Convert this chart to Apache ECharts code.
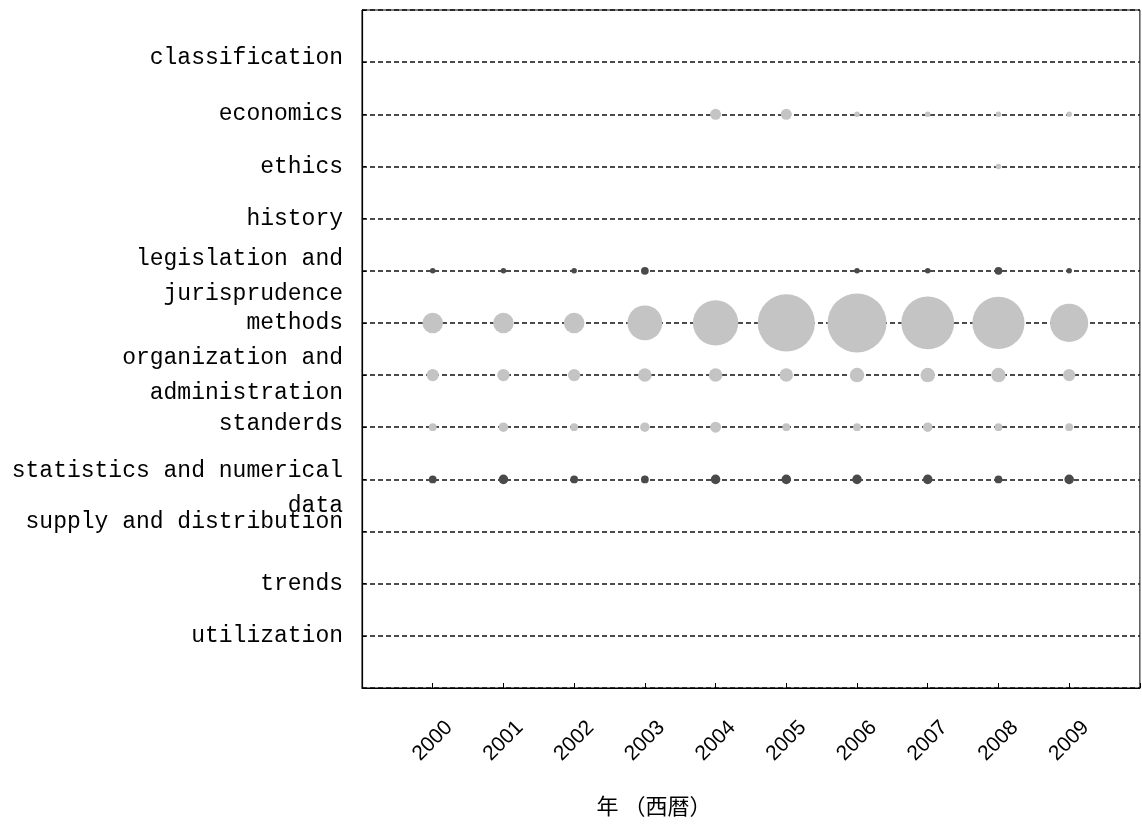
<!DOCTYPE html>
<html>
<head>
<meta charset="utf-8">
<script src="https://cdn.jsdelivr.net/npm/echarts@6/dist/echarts.min.js"></script>
<style>
html,body{margin:0;padding:0;background:#fff;}
#chart{width:1142px;height:826px;}
</style>
</head>
<body>
<div id="chart"></div>
<script>
// ---- data ----
var years = [2000, 2001, 2002, 2003, 2004, 2005, 2006, 2007, 2008, 2009];
var categories = [
  'classification',
  'economics',
  'ethics',
  'history',
  'legislation and\njurisprudence',
  'methods',
  'organization and\nadministration',
  'standerds',
  'statistics and numerical\ndata',
  'supply and distribution',
  'trends',
  'utilization'
];
var valClassification = [0, 0, 0, 0, 0, 0, 0, 0, 0, 0];
var valEconomics      = [0, 0, 0, 0, 4, 4, 1, 1, 1, 1];
var valEthics         = [0, 0, 0, 0, 0, 0, 0, 0, 1, 0];
var valHistory        = [0, 0, 0, 0, 0, 0, 0, 0, 0, 0];
var valLegislation    = [1, 1, 1, 2, 0, 0, 1, 1, 2, 1];
var valMethods        = [14, 14, 14, 40, 68, 108, 115, 92, 90, 48];
var valOrganization   = [5, 5, 5, 6, 6, 6, 7, 7, 7, 5];
var valStanderds      = [2, 3, 2, 3, 4, 2, 2, 3, 2, 2];
var valStatistics     = [2, 3, 2, 2, 3, 3, 3, 3, 2, 3];
var valSupply         = [0, 0, 0, 0, 0, 0, 0, 0, 0, 0];
var valTrends         = [0, 0, 0, 0, 0, 0, 0, 0, 0, 0];
var valUtilization    = [0, 0, 0, 0, 0, 0, 0, 0, 0, 0];
var rowValues = [valClassification, valEconomics, valEthics, valHistory, valLegislation, valMethods,
                 valOrganization, valStanderds, valStatistics, valSupply, valTrends, valUtilization];
var xAxisName = '年 （西暦）';

// ---- style settings ----
var darkRowIndexes = [4, 8];
var labelShift = {0: -4, 4: 6, 7: -3, 8: 9, 9: -10};   // vertical nudge of some y labels (px)
var yFont = {fontFamily: 'Liberation Mono', fontSize: 23, lineHeight: 35, color: '#000'};

// ---- build series data ----
var lightData = [], darkData = [];
rowValues.forEach(function (arr, r) {
  arr.forEach(function (v, i) {
    if (v > 0) {
      var item = [years[i], r + 1, v];
      if (darkRowIndexes.indexOf(r) >= 0) darkData.push(item); else lightData.push(item);
    }
  });
});
function sizeOf(v) { return 5.5 * Math.sqrt(v[2]); }

// rich styles for y labels
var rich = {n: Object.assign({}, yFont)};
Object.keys(labelShift).forEach(function (k) {
  var d = labelShift[k];
  var p = 2 * Math.abs(d);
  rich['s' + k] = Object.assign({}, yFont, {
    lineHeight: yFont.lineHeight + p,
    padding: d > 0 ? [p, 0, 0, 0] : [0, 0, p, 0]
  });
});
function yLabel(v) {
  if (!(v >= 1 && v <= categories.length)) return '';
  var idx = v - 1;
  var lines = categories[idx].split('\n');
  var d = labelShift[idx];
  return lines.map(function (ln, j) {
    var key = 'n';
    if (d !== undefined) {
      if (d > 0 && j === 0) key = 's' + idx;
      if (d < 0 && j === lines.length - 1) key = 's' + idx;
    }
    return '{' + key + '|' + ln + '}';
  }).join('\n');
}

var chart = echarts.init(document.getElementById('chart'), null, {renderer: 'canvas'});
chart.setOption({
  animation: false,
  backgroundColor: '#fff',
  grid: {left: 362, right: 0, top: 10, bottom: 138, show: true, borderColor: '#000', borderWidth: 1, backgroundColor: 'transparent'},
  xAxis: {
    type: 'value', min: 1999, max: 2010, interval: 1,
    axisLine: {show: true, onZero: false, lineStyle: {color: '#000', width: 1.2}},
    axisTick: {show: true, inside: true, length: 5, lineStyle: {color: '#000'}},
    splitLine: {show: false},
    axisLabel: {
      rotate: 45, align: 'center', verticalAlign: 'middle', margin: 53,
      fontFamily: 'Liberation Sans', fontSize: 21, color: '#000',
      formatter: function (v) { return (v >= years[0] && v <= years[years.length - 1]) ? String(v) : ''; }
    },
    name: xAxisName, nameLocation: 'middle', nameGap: 107,
    nameTextStyle: {fontFamily: 'Noto Sans CJK JP', fontSize: 22, color: '#000', padding: [0, 194, 0, 0]}
  },
  yAxis: {
    type: 'value', min: 0, max: categories.length + 1, interval: 1, inverse: true,
    axisLine: {show: true, onZero: false, lineStyle: {color: '#000', width: 1.2}},
    axisTick: {show: true, inside: true, length: 4, lineStyle: {color: '#000'}},
    splitLine: {show: true, lineStyle: {color: '#111', width: 1.6, type: [5, 3]}},
    axisLabel: Object.assign({margin: 19, align: 'right', rich: rich, formatter: yLabel}, yFont)
  },
  series: [
    {type: 'scatter', data: lightData, symbolSize: sizeOf, itemStyle: {color: '#c4c4c4', opacity: 1}, z: 3},
    {type: 'scatter', data: darkData, symbolSize: sizeOf, itemStyle: {color: '#4a4a4a', opacity: 1}, z: 3}
  ]
});
</script>
</body>
</html>
